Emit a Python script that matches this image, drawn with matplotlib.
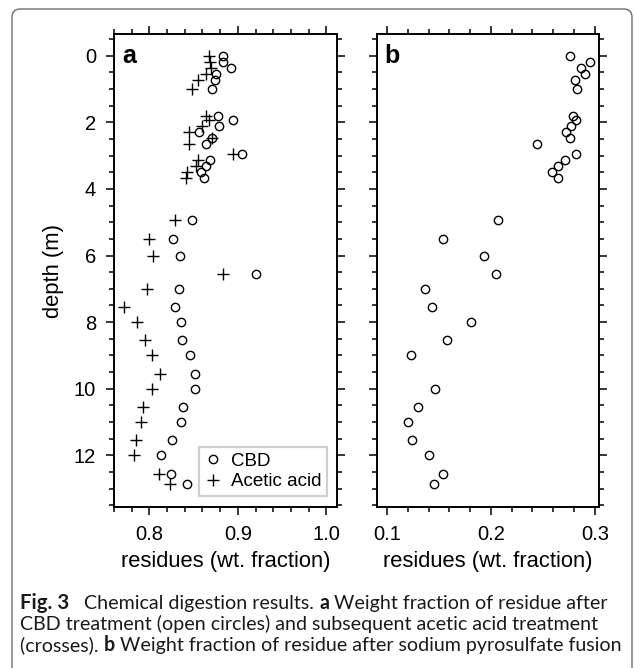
import matplotlib
matplotlib.use('Agg')
import matplotlib.pyplot as plt
from matplotlib.patches import FancyBboxPatch
from matplotlib.ticker import MultipleLocator

plt.rcParams['font.family'] = ['Liberation Sans', 'DejaVu Sans']

# depths (m) of the samples
depth = [0.0, 0.18, 0.37, 0.55, 0.74, 1.01, 1.8, 1.94, 2.12, 2.3, 2.48, 2.66,
         2.95, 3.13, 3.31, 3.49, 3.67, 4.94, 5.49, 6.0, 6.55, 7.0, 7.55, 8.0,
         8.55, 9.0, 9.55, 10.0, 10.55, 11.0, 11.55, 12.0, 12.55, 12.86]

# panel a: residues after CBD and after acetic acid
cbd = [0.883, 0.883, 0.892, 0.875, 0.874, 0.871, 0.877, 0.894, 0.879, 0.856,
       0.871, 0.864, 0.905, 0.869, 0.864, 0.858, 0.862, 0.848, 0.827, 0.835,
       0.921, 0.833, 0.829, 0.836, 0.837, 0.846, 0.852, 0.852, 0.838, 0.836,
       0.825, 0.813, 0.824, 0.842]
acetic = [0.867, 0.868, 0.870, 0.864, 0.855, 0.848, 0.864, 0.867, 0.860, 0.845,
          0.871, 0.845, 0.894, 0.855, 0.853, 0.843, 0.841, 0.829, 0.799, 0.804,
          0.883, 0.797, 0.771, 0.786, 0.795, 0.803, 0.812, 0.803, 0.793, 0.790,
          0.785, 0.783, 0.811, 0.823]

# panel b: residues after sodium pyrosulfate fusion
depth_b = [0.0, 0.18, 0.37, 0.55, 0.74, 1.01, 1.8, 1.94, 2.12, 2.3, 2.48, 2.66,
           2.95, 3.13, 3.31, 3.49, 3.67, 4.94, 5.49, 6.0, 6.55, 7.0, 7.55, 8.0,
           8.55, 9.0, 10.0, 10.55, 11.0, 11.55, 12.0, 12.55, 12.86]
fusion = [0.276, 0.295, 0.287, 0.291, 0.281, 0.283, 0.279, 0.282, 0.277, 0.272,
          0.276, 0.244, 0.282, 0.271, 0.265, 0.259, 0.265, 0.207, 0.154, 0.193,
          0.205, 0.137, 0.143, 0.181, 0.158, 0.123, 0.146, 0.130, 0.120, 0.124,
          0.140, 0.154, 0.145]

W, H = 636, 668
fig = plt.figure(figsize=(W / 100, H / 100), dpi=100)

# rounded frame around the whole figure
frame = FancyBboxPatch((12 / W, -0.05), 620 / W, 1.05 - 9 / H,
                       boxstyle='round,pad=0,rounding_size=0.013',
                       transform=fig.transFigure, fc='none', ec='#6e6e6e',
                       lw=1.0, mutation_aspect=W / H)
fig.patches.append(frame)

bot = 1 - 507 / H
top = 1 - 34 / H
ax_a = fig.add_axes([114 / W, bot, 223 / W, top - bot])
ax_b = fig.add_axes([377 / W, bot, 222 / W, top - bot])

mk = dict(linestyle='none', color='black')
ax_a.plot(cbd, depth, marker='o', ms=6, mfc='none', mew=1.0, label='CBD', **mk)
ax_a.plot(acetic, depth, marker='+', ms=8, mew=1.0, label='Acetic acid', **mk)
ax_b.plot(fusion, depth_b, marker='o', ms=6, mfc='none', mew=1.0, **mk)

ax_a.set_xlim(0.76, 1.012)
ax_b.set_xlim(0.0904, 0.304)
for ax, lab in ((ax_a, 'a'), (ax_b, 'b')):
    ax.set_ylim(13.55, -0.65)
    ax.xaxis.set_major_locator(MultipleLocator(0.1))
    ax.xaxis.set_minor_locator(MultipleLocator(0.02))
    ax.yaxis.set_major_locator(MultipleLocator(2))
    ax.yaxis.set_minor_locator(MultipleLocator(0.5))
    ax.tick_params(which='both', direction='out', top=True, right=True,
                   width=1.1, labelsize=14.5)
    ax.tick_params(which='major', length=6, pad=7)
    ax.tick_params(which='minor', length=3.5)
    for s in ax.spines.values():
        s.set_linewidth(1.4)
    ax.set_xlabel('residues (wt. fraction)', fontsize=15.8, labelpad=5)
    ax.text(0.035, 0.978, lab, transform=ax.transAxes, fontsize=18,
            fontweight='bold', va='top', ha='left')

ax_a.set_xticks([0.8, 0.9, 1.0])
ax_a.set_xticklabels(['0.8', '0.9', '1.0'])
ax_b.set_xticks([0.1, 0.2, 0.3])
ax_a.set_yticks(range(0, 13, 2))
ax_a.set_ylabel('depth (m)', fontsize=15.8, labelpad=7)
ax_b.tick_params(labelleft=False)

leg = ax_a.legend(loc='lower right', bbox_to_anchor=(0.956, 0.023),
                  borderaxespad=0, fancybox=False, fontsize=13.5,
                  handlelength=0.9, handletextpad=0.5, borderpad=0.3,
                  labelspacing=0.2, framealpha=1)
leg.get_frame().set_edgecolor('#cfcfcf')
leg.get_frame().set_linewidth(1.6)

# caption with bold pieces
cap_font = ['Lato', 'DejaVu Sans']
lines = [
    [('Fig. 3', 'bold'), ('   Chemical digestion results. ', 'normal'), ('a', 'bold'),
     (' Weight fraction of residue after', 'normal')],
    [('CBD treatment (open circles) and subsequent acetic acid treatment', 'normal')],
    [('(crosses). ', 'normal'), ('b', 'bold'),
     (' Weight fraction of residue after sodium pyrosulfate fusion', 'normal')],
]
baselines = [609, 630, 651]
fig.canvas.draw()
renderer = fig.canvas.get_renderer()
size = 14.1
for segs, yb in zip(lines, baselines):
    x = 20
    for txt, wt in segs:
        fs = size + 0.6 if txt.startswith('Fig') else size
        t = fig.text(x / W, 1 - yb / H, txt, fontsize=fs, fontweight=wt,
                     family=cap_font, color='#1a1a1a', va='baseline', ha='left')
        bb = t.get_window_extent(renderer)
        x += bb.width

fig.savefig('out.png', dpi=100)
